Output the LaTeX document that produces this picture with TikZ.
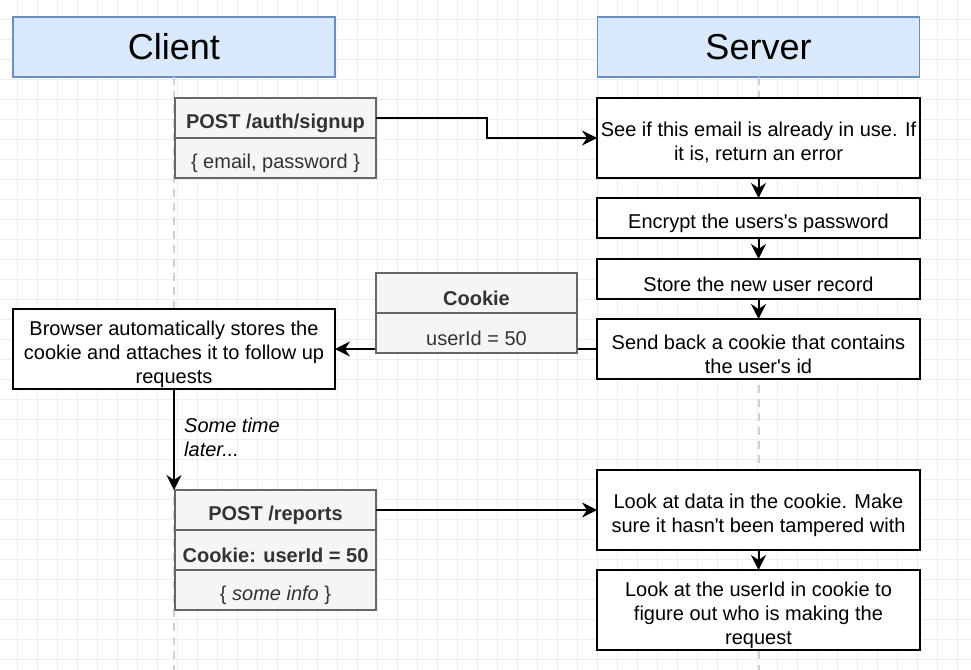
\documentclass[tikz,border=0pt]{standalone}
\usepackage{fontspec}
\setmainfont{Liberation Sans}
\usetikzlibrary{arrows.meta}
\definecolor{hdrfill}{HTML}{DAE8FC}
\definecolor{hdrdraw}{HTML}{6C8EBF}
\definecolor{gfill}{HTML}{F5F5F5}
\definecolor{gdraw}{HTML}{666666}
\definecolor{gtext}{HTML}{333333}
\definecolor{gridc}{HTML}{EEEEEE}
\definecolor{lifec}{HTML}{D0D0D0}
\newcommand\myapos{\textquotesingle}
\tikzset{
 base/.style={inner sep=0pt, outer sep=0pt, align=center, font=\fontsize{20}{24}\selectfont},
 header/.style={base, draw=hdrdraw, fill=hdrfill, line width=1.5pt, minimum width=322pt, minimum height=60pt, font=\fontsize{36}{40}\selectfont},
 stepbox/.style={base, text height=24.5pt, draw=black, fill=white, line width=2pt, minimum width=323pt},
 twolines/.style={text height=48.5pt},
 threelines/.style={text height=72.5pt},
 msgbox/.style={base, text height=24.5pt, draw=gdraw, fill=gfill, text=gtext, line width=2pt, minimum width=201pt, minimum height=40pt},
 conn/.style={line width=2pt, -{Stealth[length=15pt,width=15pt,inset=5pt]}},
 lifeline/.style={lifec, line width=2pt, dash pattern=on 8pt off 6pt},
 notelabel/.style={inner sep=0pt, align=left, anchor=west, font=\fontsize{20}{24}\selectfont\itshape},
}
\begin{document}
\begin{tikzpicture}[x=1pt,y=-1pt]
\useasboundingbox (0,0) rectangle (971,669);
\fill[white] (0,0) rectangle (971,669);
\begin{scope}
\clip (0,0) rectangle (971,669);
\draw[gridc, line width=0.8pt, step=20pt, shift={(17,19)}] (-40,-40) grid (980,680);
\end{scope}

% headers
\node[header] (client) at (174,47) {Client};
\node[header] (server) at (758.5,47) {Server};

% lifelines
\draw[lifeline] (client.south) -- ++(0,600);
\draw[lifeline] (server.south) -- ++(0,600);

% signup request
\node[msgbox] (ps1) at (275.5,118) {\textbf{POST /auth/signup}};
\node[msgbox] (ps2) at (275.5,158) {\{ email, password \}};

% server steps
\node[stepbox, twolines, minimum height=80pt] (s1) at (758.5,138) {See if this email is already in use. If\\it is, return an error};
\node[stepbox, minimum height=40pt] (s2) at (758.5,218) {Encrypt the users\myapos s password};
\node[stepbox, minimum height=40pt] (s3) at (758.5,279) {Store the new user record};
\node[stepbox, twolines, minimum height=60pt] (s4) at (758.5,349) {Send back a cookie that contains\\the user\myapos s id};

% browser
\node[stepbox, threelines, minimum width=322pt, minimum height=80pt] (br) at (174,349) {Browser automatically stores the\\cookie and attaches it to follow up\\requests};

% reports request
\node[msgbox] (pr1) at (275.5,510) {\textbf{POST /reports}};
\node[msgbox] (pr2) at (275.5,550) {\textbf{Cookie: userId = 50}};
\node[msgbox] (pr3) at (275.5,590) {\{ \textit{some info} \}};

\node[stepbox, twolines, minimum height=80pt] (s5) at (758.5,510) {Look at data in the cookie. Make\\sure it hasn\myapos t been tampered with};
\node[stepbox, threelines, minimum height=80pt] (s6) at (758.5,610) {Look at the userId in cookie to\\figure out who is making the\\request};

% connectors
\draw[conn] (ps1.east) -- ++(111,0) |- (s1.west);
\draw[conn] (s1.south) -- (s2.north);
\draw[conn] (s2.south) -- (s3.north);
\draw[conn] (s3.south) -- (s4.north);
\draw[conn] (s4.west) -- (br.east);
\draw[conn] (br.south) -- (br.south |- pr1.north);
\draw[conn] (pr1.east) -- (s5.west);
\draw[conn] (s5.south) -- (s6.north);

% cookie label on the return line
\node[msgbox] (ck1) at (476.5,293) {\textbf{Cookie}};
\node[msgbox] (ck2) at (476.5,333) {userId = 50};

\node[notelabel] (later) at (184,437) {Some time\\later...};
\end{tikzpicture}
\end{document}
